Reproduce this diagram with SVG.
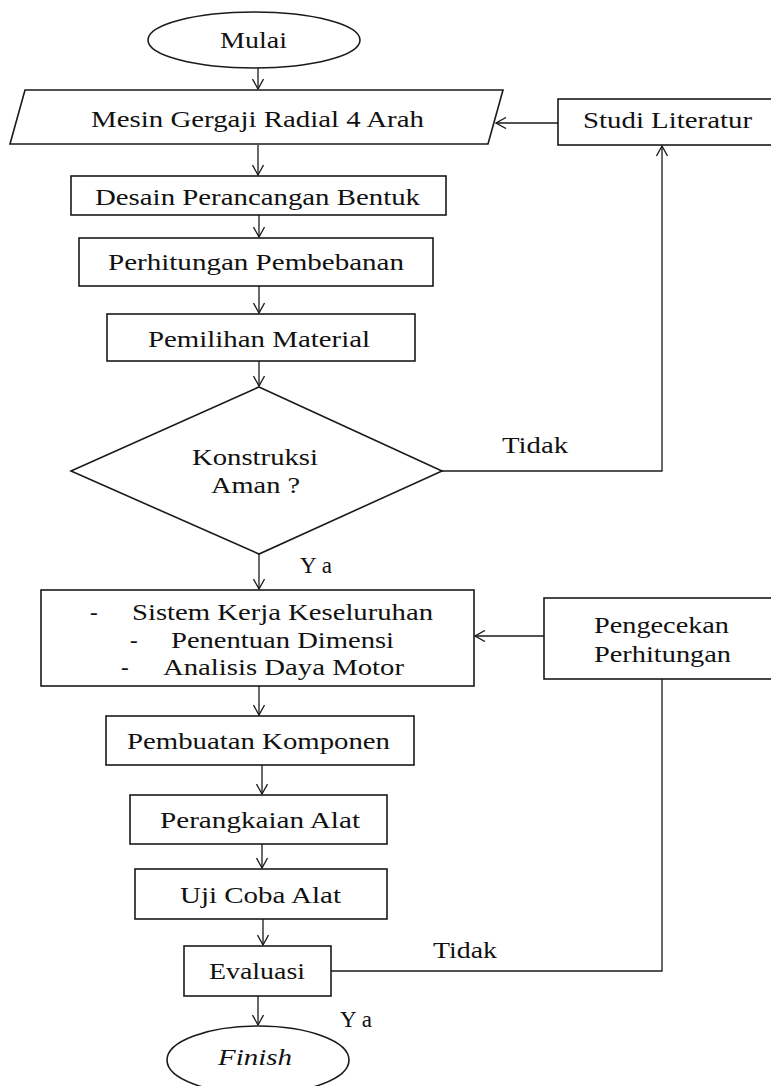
<svg xmlns="http://www.w3.org/2000/svg" width="771" height="1086" viewBox="0 0 771 1086">
<style>
.s{fill:#fff;stroke:#1a1a1a;stroke-width:1.6}
.t{font-family:"Liberation Serif","Times New Roman",serif;font-size:23px;fill:#111}
.c{fill:none;stroke:#1a1a1a;stroke-width:1.3}
.a{marker-end:url(#ah)}
</style>
<defs>
<marker id="ah" viewBox="0 0 12 12" refX="11" refY="6" markerWidth="12" markerHeight="12" markerUnits="userSpaceOnUse" orient="auto">
<path d="M1,0.5 L11,6 L1,11.5" fill="none" stroke="#1a1a1a" stroke-width="1.3"/>
</marker>
</defs>
<rect width="771" height="1086" fill="#fff"/>
<g id="connectors">
<line class="c a" x1="258" y1="68" x2="258" y2="89"/>
<line class="c a" x1="258" y1="145" x2="258" y2="175"/>
<line class="c a" x1="259" y1="215" x2="259" y2="237"/>
<line class="c a" x1="259" y1="286" x2="259" y2="313"/>
<line class="c a" x1="259" y1="361" x2="259" y2="386"/>
<line class="c a" x1="259" y1="554" x2="259" y2="589"/>
<line class="c a" x1="558" y1="123" x2="496" y2="123"/>
<polyline class="c a" points="442,471 662,471 662,146"/>
<line class="c a" x1="544" y1="636" x2="475" y2="636"/>
<line class="c a" x1="259" y1="686" x2="259" y2="715"/>
<line class="c a" x1="262" y1="765" x2="262" y2="794"/>
<line class="c a" x1="262" y1="844" x2="262" y2="868"/>
<line class="c a" x1="263" y1="919" x2="263" y2="945"/>
<line class="c a" x1="258" y1="996" x2="258" y2="1025"/>
<polyline class="c" points="331,971 662,971 662,679"/>
<text class="t" x="502" y="453" textLength="66" lengthAdjust="spacingAndGlyphs">Tidak</text>
<text class="t" x="300" y="573" textLength="32" lengthAdjust="spacing">Ya</text>
<text class="t" x="433" y="958" textLength="64" lengthAdjust="spacingAndGlyphs">Tidak</text>
<text class="t" x="340" y="1027" textLength="32" lengthAdjust="spacing">Ya</text>
</g>
<g id="mulai">
<ellipse class="s" cx="254" cy="40" rx="106" ry="28"/>
<text class="t" x="220" y="48" textLength="67" lengthAdjust="spacingAndGlyphs">Mulai</text>
</g>
<g id="mesin">
<polygon class="s" points="25,90 503,90 488,144 10,144"/>
<text class="t" x="91" y="127" textLength="333" lengthAdjust="spacingAndGlyphs">Mesin Gergaji Radial 4 Arah</text>
</g>
<g id="studi">
<rect class="s" x="558" y="99" width="220" height="46"/>
<text class="t" x="583" y="128" textLength="169" lengthAdjust="spacingAndGlyphs">Studi Literatur</text>
</g>
<g id="desain">
<rect class="s" x="71" y="176" width="375" height="39"/>
<text class="t" x="95" y="205" textLength="325" lengthAdjust="spacingAndGlyphs">Desain Perancangan Bentuk</text>
</g>
<g id="perhitungan">
<rect class="s" x="79" y="238" width="354" height="48"/>
<text class="t" x="108" y="270" textLength="296" lengthAdjust="spacingAndGlyphs">Perhitungan Pembebanan</text>
</g>
<g id="pemilihan">
<rect class="s" x="107" y="314" width="308" height="47"/>
<text class="t" x="148" y="347" textLength="222" lengthAdjust="spacingAndGlyphs">Pemilihan Material</text>
</g>
<g id="konstruksi">
<polygon class="s" points="259,387 442,471 259,554 71,471"/>
<text class="t" x="192" y="465" textLength="126" lengthAdjust="spacingAndGlyphs">Konstruksi</text>
<text class="t" x="211" y="493" textLength="89" lengthAdjust="spacingAndGlyphs">Aman ?</text>
</g>
<g id="sistem">
<rect class="s" x="41" y="590" width="433" height="96"/>
<text class="t" x="90" y="620">-</text>
<text class="t" x="132" y="620" textLength="301" lengthAdjust="spacingAndGlyphs">Sistem Kerja Keseluruhan</text>
<text class="t" x="130" y="648">-</text>
<text class="t" x="171" y="648" textLength="223" lengthAdjust="spacingAndGlyphs">Penentuan Dimensi</text>
<text class="t" x="121" y="675">-</text>
<text class="t" x="163" y="675" textLength="241" lengthAdjust="spacingAndGlyphs">Analisis Daya Motor</text>
</g>
<g id="pengecekan">
<rect class="s" x="544" y="598" width="234" height="81"/>
<text class="t" x="594" y="633" textLength="135" lengthAdjust="spacingAndGlyphs">Pengecekan</text>
<text class="t" x="594" y="662" textLength="137" lengthAdjust="spacingAndGlyphs">Perhitungan</text>
</g>
<g id="pembuatan">
<rect class="s" x="106" y="716" width="308" height="49"/>
<text class="t" x="127" y="749" textLength="263" lengthAdjust="spacingAndGlyphs">Pembuatan Komponen</text>
</g>
<g id="perangkaian">
<rect class="s" x="130" y="795" width="257" height="49"/>
<text class="t" x="160" y="828" textLength="200" lengthAdjust="spacingAndGlyphs">Perangkaian Alat</text>
</g>
<g id="ujicoba">
<rect class="s" x="135" y="869" width="252" height="50"/>
<text class="t" x="180" y="903" textLength="161" lengthAdjust="spacingAndGlyphs">Uji Coba Alat</text>
</g>
<g id="evaluasi">
<rect class="s" x="184" y="946" width="147" height="50"/>
<text class="t" x="209" y="979" textLength="96" lengthAdjust="spacingAndGlyphs">Evaluasi</text>
</g>
<g id="finish">
<ellipse class="s" cx="258" cy="1060" rx="91" ry="34"/>
<text class="t" x="218" y="1065" font-style="italic" textLength="74" lengthAdjust="spacingAndGlyphs">Finish</text>
</g>
</svg>
